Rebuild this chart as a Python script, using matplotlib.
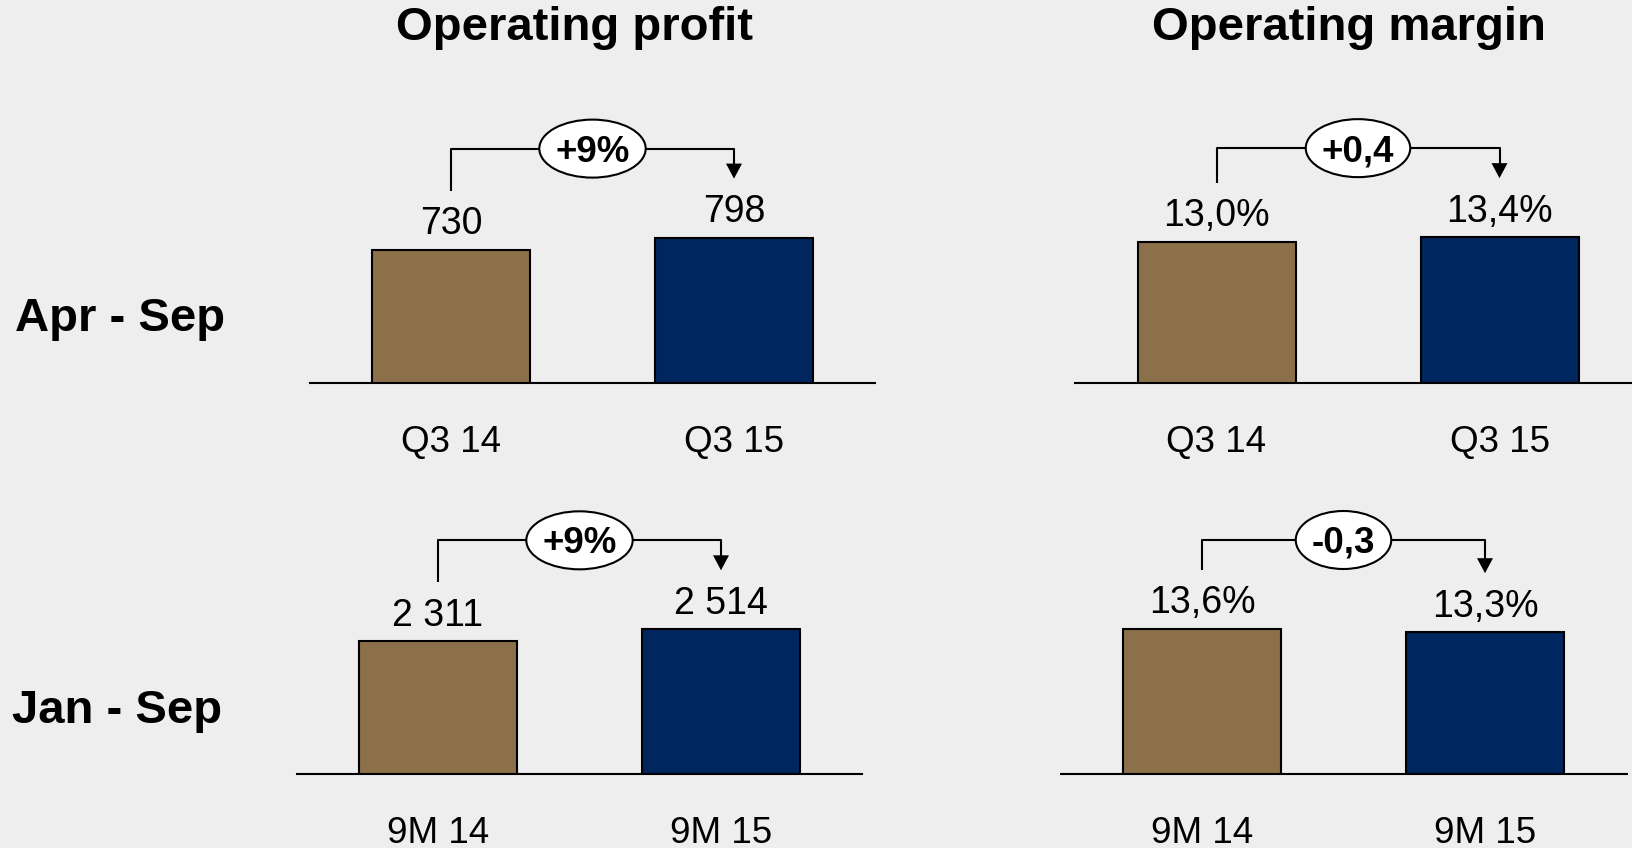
import matplotlib
matplotlib.use('Agg')
import matplotlib.pyplot as plt
from matplotlib.patches import Ellipse, Polygon

plt.rcParams['font.family'] = ['Liberation Sans', 'DejaVu Sans']

BG = '#EEEEEE'
BROWN = '#8B7049'
NAVY = '#00265F'

# data
col_titles = ['Operating profit', 'Operating margin']
row_titles = ['Apr - Sep', 'Jan - Sep']
periods = [['Q3 14', 'Q3 15'], ['9M 14', '9M 15']]
profit = [[730, 798], [2311, 2514]]
margin = [[13.0, 13.4], [13.6, 13.3]]
changes = [['+9%', '+0,4'], ['+9%', '-0,3']]

W, H = 1632, 848
AX_H = 300        # axes height in px above the baseline
XPX = 283         # px between the two bars
BAR_W = 158       # bar width in px

# panel layout: (axes left px, baseline px from top, px per data unit)
layout = {
    (0, 0): (309.5, 383, 133 / 730),
    (1, 0): (296.5, 774, 133 / 2311),
    (0, 1): (1075, 383, 141.5 / 13.0),
    (1, 1): (1060.5, 774, 145 / 13.6),
}


def fmt_profit(v):
    return f'{v:,.0f}'.replace(',', ' ')


def fmt_margin(v):
    return f'{v:.1f}%'.replace('.', ',')


fig = plt.figure(figsize=(W / 100, H / 100), dpi=100, facecolor=BG)
renderer = fig.canvas.get_renderer()


def draw_panel(r, c, vals, labels, fmt, change):
    left, base, ppu = layout[(r, c)]
    ax = fig.add_axes([left / W, (H - base) / H, 2 * XPX / W, AX_H / H])
    ax.set_facecolor('none')
    ax.set_xlim(-0.5, 1.5)
    ax.set_ylim(0, AX_H / ppu)
    ax.bar([0, 1], vals, width=BAR_W / XPX, color=[BROWN, NAVY],
           edgecolor='black', linewidth=1.5, zorder=3)
    for s in ['top', 'left', 'right']:
        ax.spines[s].set_visible(False)
    ax.spines['bottom'].set_linewidth(1.5)
    ax.set_xticks([])
    ax.set_yticks([])

    for i, v in enumerate(vals):
        ax.text(i, v + 15.5 / ppu, fmt(v), ha='center', va='baseline',
                fontsize=27, clip_on=False)
        ax.text(i, -69 / ppu, labels[i], ha='center', va='baseline',
                fontsize=26.5, clip_on=False)

    # bracket with arrow
    yh = max(vals) + 89 / ppu
    y1 = vals[0] + 59 / ppu
    y2 = vals[1] + 59 / ppu
    ax.plot([0, 0, 1, 1], [y1, yh, yh, y2 + 14 / ppu], color='black',
            lw=1.5, clip_on=False, zorder=4, solid_capstyle='butt')
    ax.add_patch(Polygon([(1 - 8 / XPX, y2 + 15 / ppu),
                          (1 + 8 / XPX, y2 + 15 / ppu), (1, y2)],
                         closed=True, fc='black', ec='none', clip_on=False,
                         zorder=4))
    t = ax.text(0.5, yh - 13 / ppu, change, ha='center', va='baseline',
                fontsize=26.5, fontweight='bold', zorder=6, clip_on=False)
    tw = t.get_window_extent(renderer).width
    ax.add_patch(Ellipse((0.5, yh), width=(tw + 32) / XPX, height=58 / ppu,
                         fc='white', ec='black', lw=1.5, zorder=5,
                         clip_on=False))


for r in range(2):
    draw_panel(r, 0, profit[r], periods[r], fmt_profit, changes[r][0])
    draw_panel(r, 1, margin[r], periods[r], fmt_margin, changes[r][1])

# column titles
fig.text(574 / W, 1 - 40 / H, col_titles[0], ha='center', va='baseline',
         fontsize=34, fontweight='bold')
fig.text(1349 / W, 1 - 40 / H, col_titles[1], ha='center', va='baseline',
         fontsize=34, fontweight='bold')

# row titles
fig.text(15 / W, 1 - 331 / H, row_titles[0], ha='left', va='baseline',
         fontsize=34, fontweight='bold')
fig.text(12 / W, 1 - 723 / H, row_titles[1], ha='left', va='baseline',
         fontsize=34, fontweight='bold')

fig.savefig('out.png', dpi=100, facecolor=BG)
plt.close(fig)
